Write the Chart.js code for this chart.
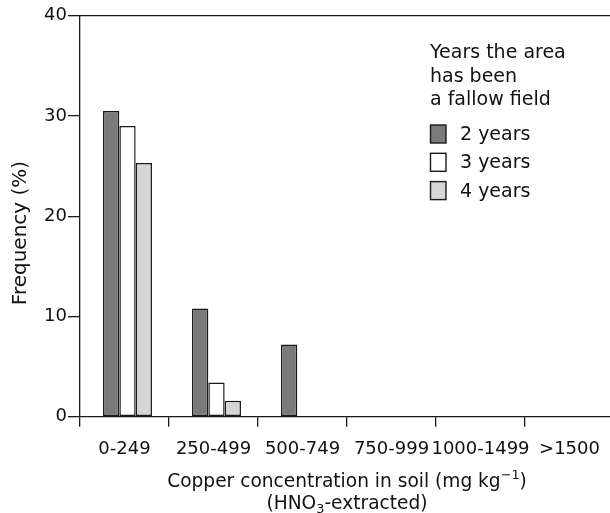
<!DOCTYPE html>
<html><head><meta charset="utf-8">
<script src="https://cdn.jsdelivr.net/npm/chart.js"></script>
<style>html,body{margin:0;padding:0;overflow:hidden;background:#fff}#wrap{width:614px;height:513px}</style>
</head><body><div id="wrap"><canvas id="c" width="614" height="513"></canvas></div>
<script>
const categories = ['0-249', '250-499', '500-749', '750-999', '1000-1499', '>1500'];
const seriesLabels = ['2 years', '3 years', '4 years'];
const years2 = [30.5, 10.8, 7.2, 0, 0, 0];
const years3 = [29.0, 3.4, 0, 0, 0, 0];
const years4 = [25.3, 1.6, 0, 0, 0, 0];
const yMin = 0, yMax = 40, yStep = 10;
const legendTitle = ['Years the area', 'has been', 'a fallow field'];
const yTitle = 'Frequency (%)';
const xTitle1 = [['Copper concentration in soil (mg kg', 0], ['\u22121', 1], [')', 0]];
const xTitle2 = [['(HNO', 0], ['3', -1], ['-extracted)', 0]];

const FONT = '"DejaVu Sans", sans-serif';
const INK = '#1a1a1a';
const TXT = '#111111';
const fills = ['#7a7a7a', '#ffffff', '#d5d5d7'];

const extras = {
  id: 'extras',
  beforeDatasetsDraw(chart) { chart.ctx.save(); chart.ctx.translate(3, 0); },
  afterDatasetsDraw(chart) { chart.ctx.restore(); },
  afterDraw(chart) {
    const ctx = chart.ctx, a = chart.chartArea;
    ctx.save();
    ctx.strokeStyle = INK; ctx.lineWidth = 1.3;
    ctx.beginPath(); ctx.moveTo(a.left, a.top); ctx.lineTo(a.right, a.top); ctx.stroke();
    ctx.fillStyle = TXT;
    ctx.font = '19px ' + FONT; ctx.textAlign = 'left'; ctx.textBaseline = 'alphabetic';
    legendTitle.forEach((t, i) => ctx.fillText(t, 430, 58 + i * 23.5));
    chart.data.datasets.forEach((ds, i) => {
      const by = 140 + i * 28.3;
      ctx.fillStyle = ds.backgroundColor;
      ctx.fillRect(430.5, by - 15, 15.5, 18);
      ctx.strokeStyle = INK; ctx.lineWidth = 1.4;
      ctx.strokeRect(430.5, by - 15, 15.5, 18);
      ctx.fillStyle = TXT;
      ctx.fillText(ds.label, 460, by);
    });
    ctx.save();
    ctx.translate(26, 233); ctx.rotate(-Math.PI / 2);
    ctx.font = '20px ' + FONT; ctx.textAlign = 'center';
    ctx.fillText(yTitle, 0, 0);
    ctx.restore();
    const cx = (a.left + a.right) / 2;
    const drawLine = (segs, base) => {
      const sz = s => s[1] === 0 ? 18.6 : 12.8;
      let w = 0;
      segs.forEach(s => { ctx.font = sz(s) + 'px ' + FONT; w += ctx.measureText(s[0]).width; });
      let x = cx - w / 2;
      ctx.textAlign = 'left';
      segs.forEach(s => {
        ctx.font = sz(s) + 'px ' + FONT;
        const dy = s[1] === 1 ? -7.5 : (s[1] === -1 ? 4 : 0);
        ctx.fillText(s[0], x, base + dy);
        x += ctx.measureText(s[0]).width;
      });
    };
    drawLine(xTitle1, 486.5);
    drawLine(xTitle2, 509.3);
    ctx.restore();
  }
};

const mk = (label, data, i) => ({
  label, data,
  backgroundColor: fills[i],
  borderColor: INK,
  borderWidth: 1.5,
  borderSkipped: false,
  categoryPercentage: 0.55,
  barPercentage: 1.0
});

new Chart(document.getElementById('c'), {
  type: 'bar',
  data: {
    labels: categories,
    datasets: [mk(seriesLabels[0], years2, 0), mk(seriesLabels[1], years3, 1), mk(seriesLabels[2], years4, 2)]
  },
  options: {
    responsive: false,
    animation: false,
    devicePixelRatio: 1,
    layout: { padding: { top: 15.7, left: 0, right: 0, bottom: 0 } },
    plugins: { legend: { display: false }, tooltip: { enabled: false }, title: { display: false } },
    scales: {
      x: {
        type: 'category',
        offset: true,
        grid: { offset: true, drawOnChartArea: false, drawTicks: true, tickLength: 10, color: INK, lineWidth: 1.3 },
        border: { display: true, color: INK, width: 1.3 },
        ticks: { color: TXT, font: { family: FONT, size: 18 }, padding: 12, maxRotation: 0, autoSkip: false },
        afterFit: s => { s.height = 96.3; }
      },
      y: {
        min: yMin, max: yMax,
        ticks: { stepSize: yStep, color: TXT, font: { family: FONT, size: 18 }, padding: 1 },
        grid: { drawOnChartArea: false, drawTicks: true, tickLength: 12, color: INK, lineWidth: 1.3 },
        border: { display: true, color: INK, width: 1.3 },
        afterFit: s => { s.width = 80; }
      }
    }
  },
  plugins: [extras]
});
</script>
</body></html>
